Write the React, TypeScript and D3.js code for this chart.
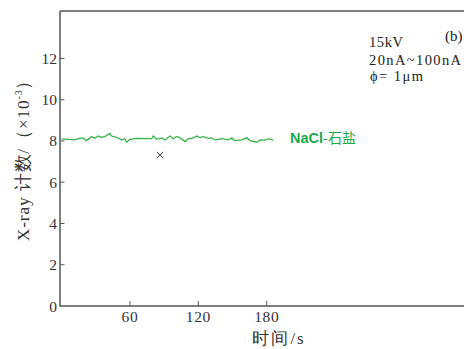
import React from "react";
import * as d3 from "d3";

const timeSec = [0, 11.7, 14.6, 19.0, 21.9, 26.3, 29.2, 32.2, 35.1, 38.0, 42.4, 43.9, 48.3, 52.7, 55.6, 57.1, 60.0, 65.9, 79.1, 80.5, 83.5, 87.9, 90.7, 95.1, 98.0, 101.0, 103.9, 108.3, 111.2, 115.6, 118.6, 121.5, 124.4, 128.8, 131.8, 134.7, 140.6, 146.4, 149.3, 152.2, 158.1, 162.5, 165.4, 171.3, 174.2, 178.6, 181.5, 185.9];
const naclCounts = [8.10, 8.05, 8.11, 8.15, 8.02, 8.21, 8.13, 8.24, 8.18, 8.21, 8.37, 8.24, 8.18, 8.05, 8.11, 7.94, 8.08, 8.13, 8.11, 8.24, 8.08, 8.15, 8.05, 8.24, 8.11, 8.22, 8.15, 7.97, 8.10, 8.15, 8.24, 8.16, 8.21, 8.13, 8.15, 8.05, 8.11, 8.05, 8.15, 8.02, 8.05, 8.15, 8.02, 7.94, 8.05, 8.04, 8.10, 8.05];
const markerTime = [86.4];
const markerCount = [7.32];
const xTicks = [60, 120, 180];
const yTicks = [0, 2, 4, 6, 8, 10, 12];
const annotations = ["15kV", "20nA~100nA", "ϕ= 1μm"];
const panelLabel = "(b)";
const seriesLabel = "NaCl";
const seriesLabelCn = "-石盐";
const xTitle = "时间/s";

export default function App() {
  const W = 464, H = 349;
  const x = d3.scaleLinear().domain([0, 353]).range([61.5, 464]);
  const y = d3.scaleLinear().domain([0, 14.3]).range([306, 11]);
  const axisColor = "#555";
  const serif = "'Liberation Serif', 'DejaVu Serif', serif";
  const line = d3
    .line<number>()
    .x((_, i) => x(timeSec[i]))
    .y((d) => y(d))
    .curve(d3.curveLinear);
  const xSym = d3.symbol().type(d3.symbolX).size(28)();
  const x0 = 60;

  return (
    <svg width={W} height={H} style={{ position: "absolute", left: 0, top: 0, background: "#fff" }}>
      {/* frame */}
      <line x1={x0} x2={W} y1={11} y2={11} stroke={axisColor} strokeWidth={1.5} />
      <line x1={x0} x2={x0} y1={11} y2={306.5} stroke={axisColor} strokeWidth={1.5} />
      <line x1={x0} x2={W} y1={306} y2={306} stroke={axisColor} strokeWidth={1.5} />
      {/* y ticks */}
      {yTicks.map((t) => (
        <g key={"y" + t}>
          {t > 0 && <line x1={x0} x2={x0 + 4.5} y1={y(t)} y2={y(t)} stroke={axisColor} strokeWidth={1} />}
          <text x={57} y={y(t) + 5.5} textAnchor="end" fontFamily={serif} fontSize={15.5} fill="#333">
            {t}
          </text>
        </g>
      ))}
      {/* x ticks */}
      {xTicks.map((t) => (
        <g key={"x" + t}>
          <line x1={x(t)} x2={x(t)} y1={306} y2={301} stroke={axisColor} strokeWidth={1} />
          <text x={x(t)} y={322} textAnchor="middle" fontFamily={serif} fontSize={15.5} letterSpacing={0.6} fill="#333">
            {t}
          </text>
        </g>
      ))}
      {/* axis titles */}
      <text x={279} y={344} textAnchor="middle" fontFamily={serif} fontSize={16.5} letterSpacing={2} fill="#333">
        {xTitle}
      </text>
      <text
        transform="translate(29,156) rotate(-90)"
        textAnchor="middle"
        fontFamily={serif}
        fontSize={17.5}
        letterSpacing={0.8}
        fill="#333"
      >
        X-ray 计数/（×10
        <tspan fontSize={10} dy={-7}>-3</tspan>
        <tspan dy={7}>）</tspan>
      </text>
      {/* series */}
      <path d={line(naclCounts) || ""} fill="none" stroke="#36b54a" strokeWidth={1.3} />
      {markerTime.map((t, i) => (
        <path
          key={"m" + i}
          d={xSym || ""}
          transform={`translate(${x(t)},${y(markerCount[i])})`}
          stroke="#444"
          strokeWidth={1}
          fill="none"
        />
      ))}
      <text x={290} y={143} fontFamily="'Liberation Sans', Arial, sans-serif" fontSize={14.5} fill="#1da84c">
        <tspan fontWeight="bold">{seriesLabel}</tspan>
        <tspan fontFamily="'Noto Sans CJK SC', sans-serif" fontSize={14}>{seriesLabelCn}</tspan>
      </text>
      {/* annotations */}
      <text x={369} y={47} fontFamily={serif} fontSize={14.5} fill="#222" textLength={34} lengthAdjust="spacing">
        {annotations[0]}
      </text>
      <text x={369} y={65} fontFamily={serif} fontSize={14.5} fill="#222" textLength={92} lengthAdjust="spacing">
        {annotations[1]}
      </text>
      <text x={370} y={81} fontFamily={serif} fontSize={14.5} fill="#222" textLength={53} lengthAdjust="spacing">
        {annotations[2]}
      </text>
      <text x={445} y={41} fontFamily={serif} fontSize={15} fill="#222">
        {panelLabel}
      </text>
    </svg>
  );
}
